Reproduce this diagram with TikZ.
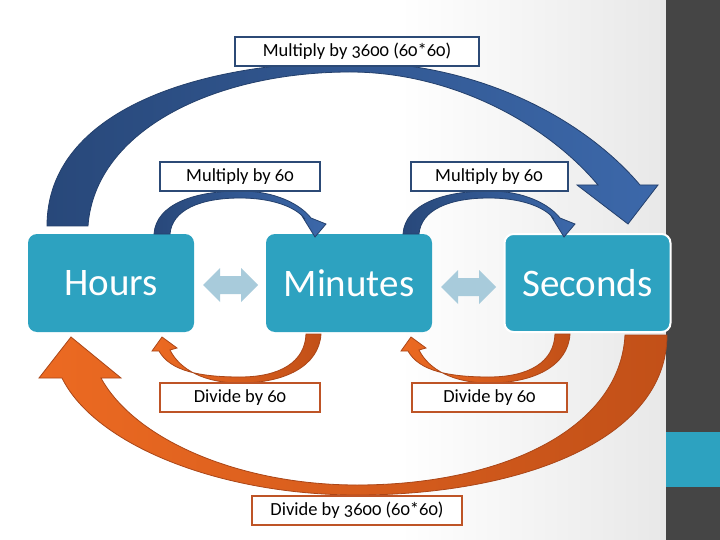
\documentclass[tikz,border=0pt]{standalone}
\usepackage{fontspec}
\setmainfont{Carlito}[Numbers=OldStyle]
\definecolor{teal1}{RGB}{45,162,192}
\definecolor{strip}{RGB}{69,69,69}
\definecolor{lblblue}{RGB}{44,74,118}
\definecolor{lblorange}{RGB}{190,84,38}
\definecolor{dbl}{RGB}{168,203,219}
\definecolor{blueL}{RGB}{40,72,122}
\definecolor{blueR}{RGB}{60,104,170}
\definecolor{blueEdge}{RGB}{36,64,108}
\definecolor{orL}{RGB}{236,106,34}
\definecolor{orR}{RGB}{194,80,24}
\definecolor{orEdge}{RGB}{170,70,24}
\definecolor{bggray}{RGB}{232,232,232}
\tikzset{
  unitbox/.style={fill=teal1, rounded corners=9pt, minimum width=166pt, minimum height=98pt, inner sep=0pt, text=white, font=\fontsize{39}{44}\selectfont},
  lbl/.style={fill=white, line width=2pt, minimum height=29pt, inner sep=0pt, font=\fontsize{18.5}{20}\selectfont},
  lblb/.style={lbl, draw=lblblue},
  lblo/.style={lbl, draw=lblorange},
  blueribbon/.style={left color=blueL, right color=blueR, draw=blueEdge, line width=0.8pt},
  orangeribbon/.style={left color=orL, right color=orR, draw=orEdge, line width=0.8pt},
  dblarrow/.style={fill=dbl}
}
\begin{document}
\begin{tikzpicture}[x=1pt,y=-1pt]
\useasboundingbox (0,0) rectangle (720,540);
% background
\fill[white] (0,0) rectangle (400,540);
\shade[left color=white, right color=bggray] (400,0) rectangle (666,540);
\fill[strip] (666,0) rectangle (720,540);
\fill[teal1] (666,432) rectangle (720,487);

% boxes
\node[unitbox] (hours) at (111,283) {Hours};
\node[unitbox] (minutes) at (349,283) {Minutes};
\node[unitbox, draw=white, line width=2pt] (seconds) at (587.5,283) {Seconds};

% big blue arrow
\path[blueribbon] (47,226) .. controls (47,110) and (200,62) .. (350,62)
  .. controls (480,62) and (585,120) .. (640,185) -- (658,185) -- (628,224) -- (577,185) -- (598,185)
  .. controls (545,122) and (450,72) .. (350,72)
  .. controls (215,72) and (95,130) .. (88,226) -- cycle;

% big orange arrow
\path[orangeribbon] (667,335) .. controls (667,440) and (520,495) .. (357,495)
  .. controls (220,495) and (95,445) .. (62,378) -- (39,378) -- (71,337) -- (121,378) -- (101,378)
  .. controls (135,440) and (240,485) .. (357,485)
  .. controls (500,485) and (620,430) .. (625,335) -- cycle;

% small arrows
\foreach \dx in {0,249}{
  \begin{scope}[xshift=\dx pt]
  \path[blueribbon] (154,234) .. controls (156,204) and (195,191) .. (240,191)
    .. controls (275,191) and (300,204) .. (311,218) -- (326,224) -- (315,237) -- (302,216) -- (305,219)
    .. controls (295,206) and (270,198) .. (240,198)
    .. controls (200,198) and (172,210) .. (170,234) -- cycle;
  \path[orangeribbon] (321,334) .. controls (319,366) and (285,383) .. (240,383)
    .. controls (205,383) and (180,370) .. (170,350) -- (177,348) -- (162,337) -- (152,351) -- (159,351)
    .. controls (170,371) and (200,377) .. (240,377)
    .. controls (280,377) and (305,362) .. (306,334) -- cycle;
  \end{scope}
}

% double arrows
\path[dblarrow] (203,285) -- (220,268) -- (220,276) -- (241,276) -- (241,268) -- (258,285)
  -- (241,302) -- (241,294) -- (220,294) -- (220,302) -- cycle;
\path[dblarrow] (441,287) -- (458,270) -- (458,278) -- (479,278) -- (479,270) -- (496,287)
  -- (479,304) -- (479,296) -- (458,296) -- (458,304) -- cycle;

% labels
\node[lblb, minimum width=244pt] (mul3600) at (357,51.5) {Multiply by 3600 (60*60)};
\node[lblb, minimum width=160pt] (mul60a) at (240,177) {Multiply by 60};
\node[lblb, minimum width=157pt] (mul60b) at (489,177) {Multiply by 60};
\node[lblo, minimum width=160pt] (div60a) at (240,397.5) {Divide by 60};
\node[lblo, minimum width=155pt] (div60b) at (489.5,397.5) {Divide by 60};
\node[lblo, minimum width=210pt] (div3600) at (357,510.5) {Divide by 3600 (60*60)};
\end{tikzpicture}
\end{document}
